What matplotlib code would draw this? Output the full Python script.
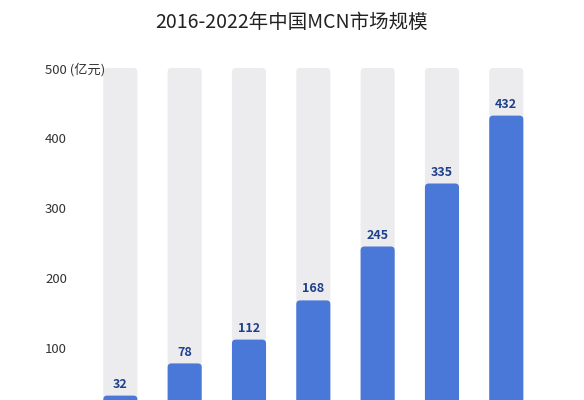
import matplotlib
matplotlib.use("Agg")
import matplotlib.pyplot as plt
from matplotlib.patches import FancyBboxPatch

plt.rcParams['font.family'] = ['Noto Sans CJK SC', 'DejaVu Sans']

years = ["2016", "2017", "2018", "2019", "2020", "2021", "2022"]
values = [32, 78, 112, 168, 245, 335, 432]
yticks = [100, 200, 300, 400, 500]
ytick_labels = ["100", "200", "300", "400", "500 (亿元)"]
BG_MAX = 500

BLUE = "#4a78d8"
GREY = "#ececef"
LABEL = "#1f3f8a"

fig = plt.figure(figsize=(5.84, 4.0), dpi=100)
fig.patch.set_facecolor("white")
ax = fig.add_axes([0.151, -0.045, 0.771, 0.8925])
ax.set_xlim(-0.5, len(years) - 0.5)
ax.set_ylim(0, 510)

x = list(range(len(years)))
bg = ax.bar(x, [BG_MAX] * len(x), width=0.53, color=GREY)
fg = ax.bar(x, values, width=0.53, color=BLUE)

# скругляем верх столбцов
aspect = (510 / 357) / (7 / 450)
for bars in (bg, fg):
    for b in bars:
        rp = FancyBboxPatch((b.get_x(), b.get_y()), b.get_width(), b.get_height(),
                            boxstyle="round,pad=0,rounding_size=0.06",
                            mutation_aspect=aspect,
                            facecolor=b.get_facecolor(), edgecolor="none")
        b.set_visible(False)
        ax.add_patch(rp)

for xi, v in zip(x, values):
    ax.text(xi, v + 7, str(v), ha="center", va="bottom", fontsize=9,
            fontweight="bold", color=LABEL)

ax.set_yticks(yticks)
ax.set_yticklabels(ytick_labels, fontsize=9.5, color="#333333")
for t in ax.get_yticklabels():
    t.set_horizontalalignment("left")
ax.tick_params(axis="y", length=0, pad=31)
ax.tick_params(axis="x", length=0, labelbottom=False)
for s in ax.spines.values():
    s.set_visible(False)

fig.text(0.5, 0.945, "2016-2022年中国MCN市场规模", ha="center", va="center",
         fontsize=14, fontweight="medium", color="#222222")

fig.savefig("out.png", dpi=100)
